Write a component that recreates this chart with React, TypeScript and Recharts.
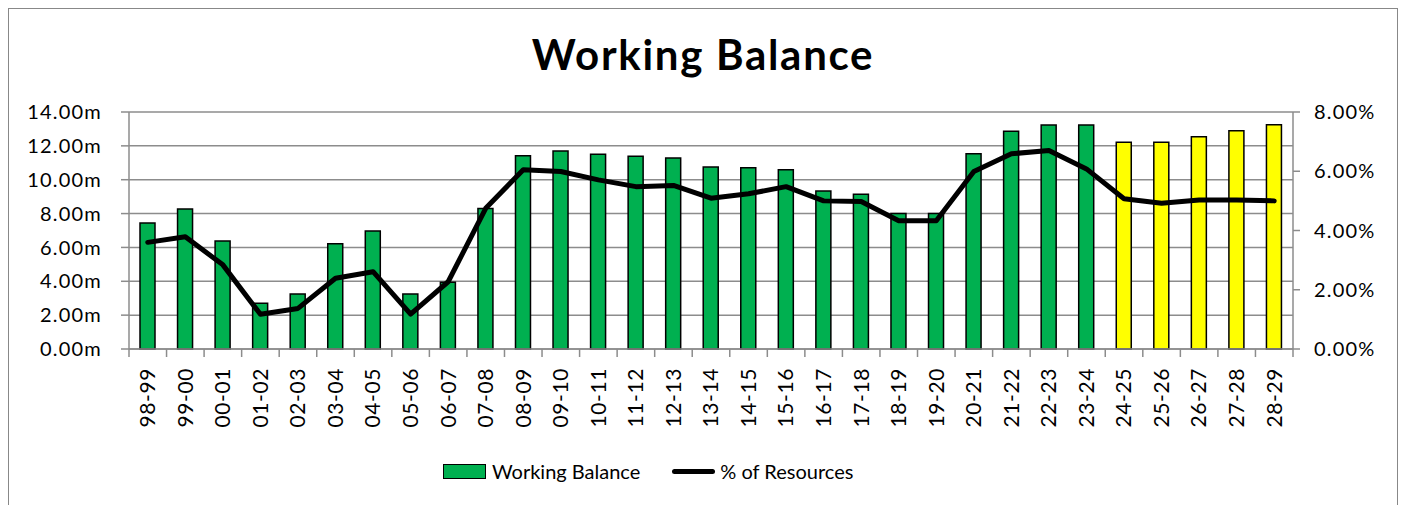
import {
  ComposedChart,
  Bar,
  Line,
  Cell,
  XAxis,
  YAxis,
  CartesianGrid,
} from 'recharts';

const categories = [
  '98-99', '99-00', '00-01', '01-02', '02-03', '03-04', '04-05', '05-06',
  '06-07', '07-08', '08-09', '09-10', '10-11', '11-12', '12-13', '13-14',
  '14-15', '15-16', '16-17', '17-18', '18-19', '19-20', '20-21', '21-22',
  '22-23', '23-24', '24-25', '25-26', '26-27', '27-28', '28-29',
];

// working balance, £m
const workingBalance = [
  7.45, 8.27, 6.38, 2.7, 3.25, 6.22, 6.97, 3.25,
  3.94, 8.3, 11.42, 11.7, 11.5, 11.38, 11.28, 10.75,
  10.71, 10.59, 9.33, 9.14, 8.01, 8.01, 11.54, 12.86,
  13.23, 13.23, 12.21, 12.21, 12.54, 12.89, 13.25,
];

// balance as % of resources
const pctResources = [
  3.6, 3.79, 2.84, 1.17, 1.37, 2.39, 2.61, 1.18,
  2.27, 4.75, 6.05, 5.99, 5.71, 5.48, 5.52, 5.09,
  5.24, 5.48, 5.0, 4.98, 4.33, 4.33, 5.99, 6.59,
  6.7, 6.08, 5.07, 4.92, 5.03, 5.03, 5.0,
];

// projected years (yellow bars)
const projected = ['24-25', '25-26', '26-27', '27-28', '28-29'];

const leftTicks = [0, 2, 4, 6, 8, 10, 12, 14];
const rightTicks = [0, 2, 4, 6, 8];

const FONT = 'Lato, "Open Sans", sans-serif';
const GREEN = '#00B050';
const YELLOW = '#FFFF00';
const GRID = '#8c8c8c';

const CHART_W = 1388;
const CHART_H = 440;
const LEFT_W = 120;
const RIGHT_W = 104;
const BAND = (CHART_W - LEFT_W - RIGHT_W) / categories.length;

const data = categories.map((c, i) => ({
  name: c,
  balance: workingBalance[i],
  pct: pctResources[i],
}));

const XTick = (props: any) => {
  const { x, y, payload, index } = props;
  const last = index === categories.length - 1;
  return (
    <g>
      <line x1={x - BAND / 2} x2={x - BAND / 2} y1={y} y2={y + 8} stroke={GRID} strokeWidth={1.5} />
      {last && (
        <line x1={x + BAND / 2} x2={x + BAND / 2} y1={y} y2={y + 8} stroke={GRID} strokeWidth={1.5} />
      )}
      <text
        x={x}
        y={y + 19}
        transform={`rotate(-90 ${x} ${y + 19})`}
        textAnchor="end"
        dy="0.35em"
        fontFamily={FONT}
        fontSize={21}
        letterSpacing={0.6}
        fill="#000"
      >
        {payload.value}
      </text>
    </g>
  );
};

const Legend2 = () => (
  <div
    style={{
      position: 'absolute',
      left: 434,
      top: 450,
      display: 'flex',
      alignItems: 'center',
      fontFamily: FONT,
      fontSize: 20,
      color: '#000',
      whiteSpace: 'nowrap',
    }}
  >
    <span
      style={{
        display: 'inline-block',
        width: 41,
        height: 13,
        background: GREEN,
        border: '1.5px solid #000',
        marginRight: 6,
      }}
    />
    <span>Working Balance</span>
    <span
      style={{
        display: 'inline-block',
        width: 43,
        height: 5,
        background: '#000',
        borderRadius: 3,
        marginLeft: 32,
        marginRight: 5,
      }}
    />
    <span>% of Resources</span>
  </div>
);

export default function App() {
  return (
    <div
      style={{
        position: 'relative',
        width: CHART_W,
        height: 510,
        border: '1px solid #888',
        background: '#fff',
      }}
    >
      <div
        style={{
          position: 'absolute',
          top: 20,
          left: 0,
          width: '100%',
          textAlign: 'center',
          fontFamily: FONT,
          fontWeight: 700,
          fontSize: 42,
          letterSpacing: 1.7,
          lineHeight: '50px',
          color: '#000',
        }}
      >
        Working Balance
      </div>
      <ComposedChart
        width={CHART_W}
        height={CHART_H}
        data={data}
        margin={{ top: 103, right: 0, bottom: 0, left: 0 }}
        barCategoryGap={0}
      >
        <CartesianGrid yAxisId="m" stroke={GRID} strokeWidth={1.5} vertical={false} />
        <XAxis
          dataKey="name"
          interval={0}
          height={100}
          tick={<XTick />}
          tickLine={false}
          tickSize={0}
          tickMargin={0}
          axisLine={{ stroke: GRID, strokeWidth: 1.5 }}
        />
        <YAxis
          yAxisId="m"
          domain={[0, 14]}
          ticks={leftTicks}
          interval={0}
          width={LEFT_W}
          tickFormatter={(v: number) => `${v.toFixed(2)}m`}
          tick={{ fontFamily: FONT, fontSize: 20, fill: '#000', letterSpacing: 1.2 }}
          tickLine={{ stroke: GRID, strokeWidth: 1.5 }}
          tickSize={8}
          tickMargin={19}
          axisLine={{ stroke: GRID, strokeWidth: 1.5 }}
        />
        <YAxis
          yAxisId="p"
          orientation="right"
          domain={[0, 8]}
          ticks={rightTicks}
          interval={0}
          width={RIGHT_W}
          tickFormatter={(v: number) => `${v.toFixed(2)}%`}
          tick={{ fontFamily: FONT, fontSize: 20, fill: '#000', letterSpacing: 1.2 }}
          tickLine={{ stroke: GRID, strokeWidth: 1.5 }}
          tickSize={7}
          tickMargin={14}
          axisLine={{ stroke: GRID, strokeWidth: 1.5 }}
        />
        <Bar
          yAxisId="m"
          dataKey="balance"
          barSize={15}
          stroke="#000"
          strokeWidth={1.5}
          isAnimationActive={false}
        >
          {data.map((d) => (
            <Cell key={d.name} fill={projected.includes(d.name) ? YELLOW : GREEN} />
          ))}
        </Bar>
        <Line
          yAxisId="p"
          dataKey="pct"
          type="linear"
          stroke="#000"
          strokeWidth={5}
          strokeLinecap="round"
          strokeLinejoin="round"
          dot={false}
          isAnimationActive={false}
        />
      </ComposedChart>
      <Legend2 />
    </div>
  );
}
